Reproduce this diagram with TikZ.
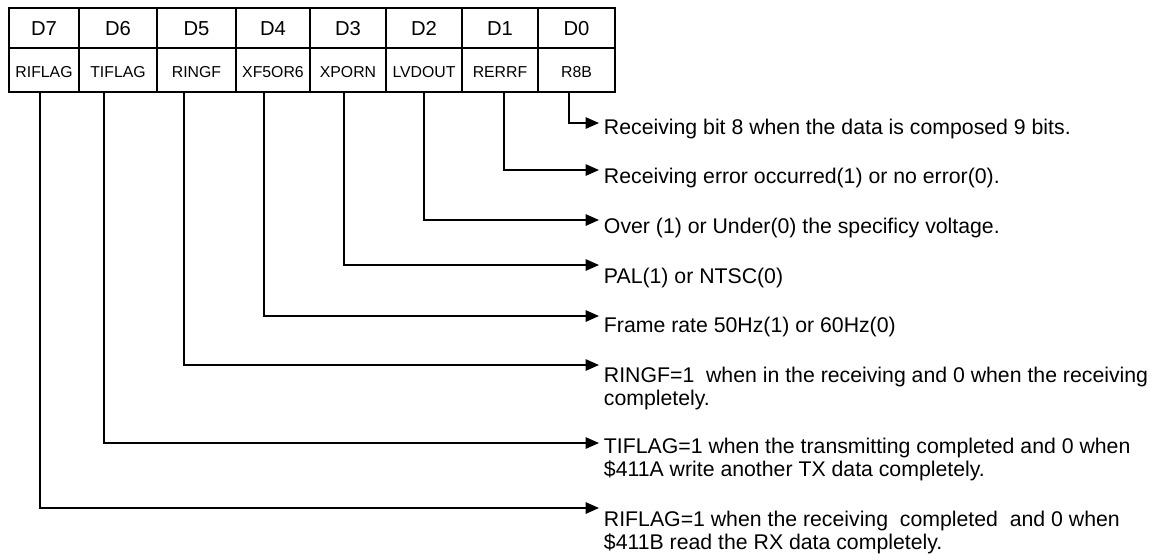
\documentclass[tikz,border=0pt]{standalone}
\usepackage{fontspec}
\setmainfont{Liberation Sans}
\usetikzlibrary{arrows.meta}

\tikzset{
  bit/.style={font=\fontsize{11.5}{13}\selectfont, text height=1.6ex, text depth=0pt},
  flag/.style={font=\fontsize{9}{11}\selectfont, text height=1.6ex, text depth=0pt},
  desc/.style={anchor=north west, inner sep=0pt, align=left, font=\fontsize{12.1}{13}\selectfont},
  wire/.style={line width=0.9pt, -{Triangle[length=0.27cm, width=0.23cm]}}
}

\begin{document}
\begin{tikzpicture}[x=0.02cm, y=-0.02cm, line width=1.1pt]
      \useasboundingbox (0,0) rectangle (1154,555);
      \draw (9, 8) rectangle (79, 48) node (d7) [bit, pos=.5] {D7}
            (79, 8) rectangle (157, 48) node (d6) [bit, pos=.5] {D6}
            (157, 8) rectangle (236, 48) node (d5) [bit, pos=.5] {D5}
            (236, 8) rectangle (310, 48) node (d4) [bit, pos=.5] {D4}
            (310, 8) rectangle (386, 48) node (d3) [bit, pos=.5] {D3}
            (386, 8) rectangle (462, 48) node (d2) [bit, pos=.5] {D2}
            (462, 8) rectangle (538, 48) node (d1) [bit, pos=.5] {D1}
            (538, 8) rectangle (615, 48) node (d0) [bit, pos=.5] {D0};
      \draw (9, 48) rectangle (79, 92) node (f7) [flag, pos=.5] {RIFLAG}
            (79, 48) rectangle (157, 92) node (f6) [flag, pos=.5] {TIFLAG}
            (157, 48) rectangle (236, 92) node (f5) [flag, pos=.5] {RINGF}
            (236, 48) rectangle (310, 92) node (f4) [flag, pos=.5] {XF5OR6}
            (310, 48) rectangle (386, 92) node (f3) [flag, pos=.5] {XPORN}
            (386, 48) rectangle (462, 92) node (f2) [flag, pos=.5] {LVDOUT}
            (462, 48) rectangle (538, 92) node (f1) [flag, pos=.5] {RERRF}
            (538, 48) rectangle (615, 92) node (f0) [flag, pos=.5] {R8B};
      \coordinate (b7) at (40, 92);  \coordinate (e7) at (599, 508);
      \coordinate (b6) at (104, 92); \coordinate (e6) at (599, 443);
      \coordinate (b5) at (184, 92); \coordinate (e5) at (599, 365);
      \coordinate (b4) at (264, 92); \coordinate (e4) at (599, 316);
      \coordinate (b3) at (344, 92); \coordinate (e3) at (599, 265);
      \coordinate (b2) at (424, 92); \coordinate (e2) at (599, 220);
      \coordinate (b1) at (504, 92); \coordinate (e1) at (599, 170);
      \coordinate (b0) at (569, 92); \coordinate (e0) at (599, 123);
      \node (t0) [desc] at (603, 118) {\strut Receiving bit 8 when the data is composed 9 bits.};
      \node (t1) [desc] at (603, 167) {\strut Receiving error occurred(1) or no error(0).};
      \node (t2) [desc] at (603, 217) {\strut Over (1) or Under(0) the specificy voltage.};
      \node (t3) [desc] at (603, 267) {\strut PAL(1) or NTSC(0)};
      \node (t4) [desc] at (603, 316) {\strut Frame rate 50Hz(1) or 60Hz(0)};
      \node (t5) [desc] at (603, 366) {\strut RINGF=1\ \ when in the receiving and 0 when the receiving\\completely.};
      \node (t6) [desc] at (603, 437) {\strut TIFLAG=1 when the transmitting completed and 0 when\\\$411A write another TX data completely.};
      \node (t7) [desc] at (603, 510) {\strut RIFLAG=1 when the receiving\ \ completed\ \ and 0 when\\\$411B read the RX data completely.};
      \foreach \i in {0,...,7}
        \draw[wire] (b\i) |- (e\i);
\end{tikzpicture}
\end{document}
